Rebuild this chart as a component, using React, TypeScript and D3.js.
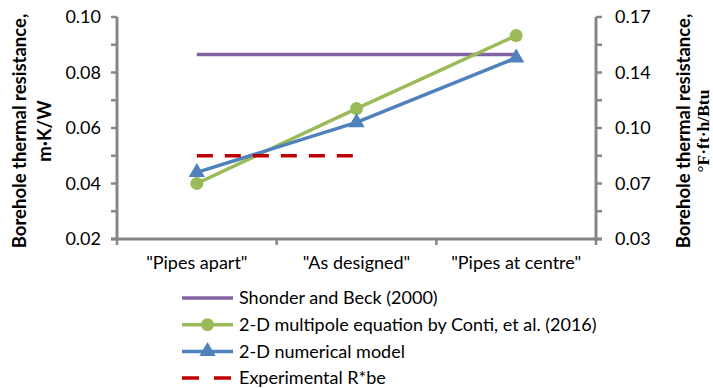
import React from "react";
import * as d3 from "d3";

const categories = ['"Pipes apart"', '"As designed"', '"Pipes at centre"'];
const shonderBeck = [0.0865, 0.0865, 0.0865];
const multipole = [0.040, 0.067, 0.0933];
const numerical = [0.044, 0.062, 0.0853];
const experimental = [0.050, 0.050];
const leftTicks = [0.02, 0.04, 0.06, 0.08, 0.10];
const rightTickLabels = ["0.03", "0.07", "0.10", "0.14", "0.17"];
const legendLabels = [
  "Shonder and Beck (2000)",
  "2-D multipole equation by Conti, et al. (2016)",
  "2-D numerical model",
  "Experimental R*be",
];

const W = 713;
const H = 388;
const left = 117;
const right = 596;
const top = 17;
const bottom = 239;
const purple = "#8064A2";
const green = "#9BBB59";
const blue = "#4F81BD";
const red = "#C00000";
const axisGray = "#868686";
const font = "Lato, 'Open Sans', sans-serif";

export default function App() {
  const x = d3.scaleBand<string>().domain(categories).range([left, right]);
  const cx = (c: string) => (x(c) as number) + x.bandwidth() / 2;
  const y = d3.scaleLinear().domain([0.02, 0.1]).range([bottom, top]);
  const minor = d3.range(0.03, 0.1, 0.02);

  const line = d3
    .line<[string, number]>()
    .x((d) => cx(d[0]))
    .y((d) => y(d[1]));

  const zip = (vals: number[]) => vals.map((v, i) => [categories[i], v] as [string, number]);

  const tri = d3.symbol(d3.symbolTriangle, 115)();

  const legendY = (i: number) => 298 + i * 26.7;
  const midY = (top + bottom) / 2 + 3;

  return (
    <svg
      width={W}
      height={H}
      style={{ position: "absolute", left: 0, top: 0, background: "#fff" }}
      fontFamily={font}
    >
      {/* left axis */}
      <line x1={left} x2={left} y1={top} y2={bottom + 1.5} stroke={axisGray} strokeWidth={3} />
      {leftTicks.map((t) => (
        <g key={"l" + t}>
          <line x1={left - 6} x2={left} y1={y(t)} y2={y(t)} stroke={axisGray} strokeWidth={2.5} />
          <text x={left - 16} y={y(t)} dy="0.35em" textAnchor="end" fontSize={18} fill="#000">
            {d3.format(".2f")(t)}
          </text>
        </g>
      ))}
      {minor.map((t) => (
        <line key={"lm" + t} x1={left - 6} x2={left} y1={y(t)} y2={y(t)} stroke={axisGray} strokeWidth={2.5} />
      ))}
      {/* right axis */}
      <line x1={right} x2={right} y1={top} y2={bottom + 1.5} stroke={axisGray} strokeWidth={3} />
      {leftTicks.map((t, i) => (
        <g key={"r" + t}>
          <line x1={right} x2={right + 6} y1={y(t)} y2={y(t)} stroke={axisGray} strokeWidth={2.5} />
          <text x={right + 19} y={y(t)} dy="0.35em" textAnchor="start" fontSize={18} fill="#000">
            {rightTickLabels[i]}
          </text>
        </g>
      ))}
      {minor.map((t) => (
        <line key={"rm" + t} x1={right} x2={right + 6} y1={y(t)} y2={y(t)} stroke={axisGray} strokeWidth={2.5} />
      ))}
      {/* bottom axis */}
      <line x1={left - 6} x2={right + 6} y1={bottom} y2={bottom} stroke={axisGray} strokeWidth={3} />
      {[...categories.map((c) => x(c) as number), right].map((p, i) => (
        <line key={"bt" + i} x1={p} x2={p} y1={bottom} y2={bottom + 6} stroke={axisGray} strokeWidth={2.5} />
      ))}
      {categories.map((c) => (
        <text key={c} x={cx(c)} y={263} dy="0.35em" textAnchor="middle" fontSize={18} fill="#000">
          {c}
        </text>
      ))}

      {/* axis titles */}
      <text
        transform={`translate(20,${midY}) rotate(-90)`}
        textAnchor="middle"
        dy="0.35em"
        fontSize={18.5}
        fontWeight="bold"
      >
        Borehole thermal resistance,
      </text>
      <text
        transform={`translate(45,${midY}) rotate(-90)`}
        textAnchor="middle"
        dy="0.35em"
        fontSize={18.5}
        fontWeight="bold"
      >
        m·K/W
      </text>
      <text
        transform={`translate(684,${midY}) rotate(-90)`}
        textAnchor="middle"
        dy="0.35em"
        fontSize={18.5}
        fontWeight="bold"
      >
        Borehole thermal resistance,
      </text>
      <text
        transform={`translate(703,${midY}) rotate(-90)`}
        textAnchor="middle"
        dy="0.32em"
        fontSize={17.5}
        fontWeight="bold"
        fontFamily="'Liberation Serif', 'DejaVu Serif', serif"
      >
        °F·ft·h/Btu
      </text>

      {/* series */}
      <path d={line(zip(shonderBeck)) as string} fill="none" stroke={purple} strokeWidth={3.5} />
      <path d={line(zip(multipole)) as string} fill="none" stroke={green} strokeWidth={3.5} />
      <path d={line(zip(numerical)) as string} fill="none" stroke={blue} strokeWidth={3.5} />
      <path
        d={line(zip(experimental)) as string}
        fill="none"
        stroke={red}
        strokeWidth={3.5}
        strokeDasharray="16 12"
      />
      {zip(multipole).map((d, i) => (
        <circle key={"g" + i} cx={cx(d[0])} cy={y(d[1])} r={6.5} fill={green} />
      ))}
      {zip(numerical).map((d, i) => (
        <path key={"b" + i} d={tri as string} transform={`translate(${cx(d[0])},${y(d[1])})`} fill={blue} />
      ))}

      {/* legend */}
      {legendLabels.map((lab, i) => {
        const ly = legendY(i);
        const color = [purple, green, blue, red][i];
        return (
          <g key={lab}>
            <line
              x1={182}
              x2={233}
              y1={ly}
              y2={ly}
              stroke={color}
              strokeWidth={3.5}
              strokeDasharray={i === 3 ? "17 15" : undefined}
            />
            {i === 1 && <circle cx={207.5} cy={ly} r={6.5} fill={green} />}
            {i === 2 && <path d={tri as string} transform={`translate(207.5,${ly})`} fill={blue} />}
            <text x={239} y={ly} dy="0.35em" fontSize={18} fill="#000">
              {lab}
            </text>
          </g>
        );
      })}
    </svg>
  );
}
